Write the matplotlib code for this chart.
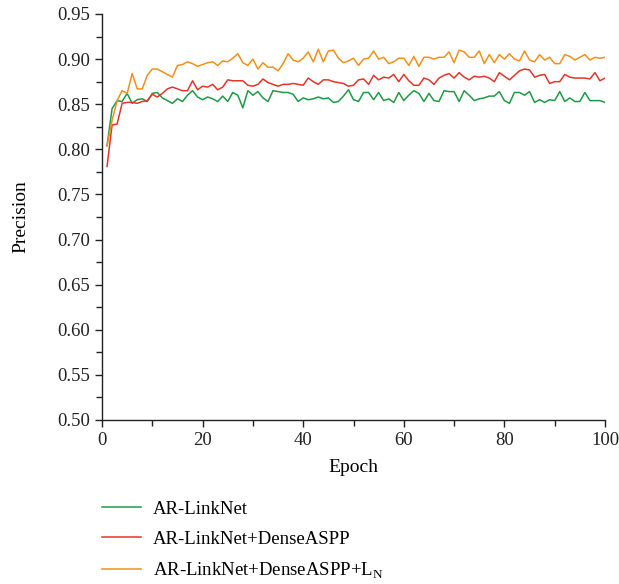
import matplotlib
matplotlib.use("Agg")
import matplotlib.pyplot as plt
from matplotlib.ticker import MultipleLocator
import numpy as np

epochs = list(range(1, 101))

ar_linknet = [
    0.804, 0.845, 0.854, 0.853, 0.862, 0.851, 0.855, 0.856, 0.853, 0.862,
    0.863, 0.857, 0.854, 0.851, 0.856, 0.853, 0.860, 0.865, 0.858, 0.855,
    0.858, 0.856, 0.853, 0.859, 0.853, 0.863, 0.860, 0.846, 0.865, 0.860,
    0.864, 0.857, 0.853, 0.865, 0.864, 0.863, 0.863, 0.861, 0.853, 0.857,
    0.855, 0.856, 0.858, 0.856, 0.857, 0.852, 0.853, 0.859, 0.866, 0.855,
    0.853, 0.863, 0.863, 0.855, 0.863, 0.854, 0.856, 0.852, 0.863, 0.854,
    0.860, 0.865, 0.862, 0.853, 0.862, 0.854, 0.853, 0.865, 0.864, 0.864,
    0.853, 0.865, 0.860, 0.854, 0.856, 0.857, 0.859, 0.859, 0.864, 0.854,
    0.851, 0.863, 0.863, 0.860, 0.864, 0.852, 0.855, 0.852, 0.855, 0.854,
    0.864, 0.853, 0.857, 0.853, 0.853, 0.863, 0.854, 0.854, 0.854, 0.852,
]

ar_dense = [
    0.781, 0.827, 0.828, 0.851, 0.852, 0.852, 0.851, 0.853, 0.854, 0.861,
    0.858, 0.862, 0.867, 0.869, 0.867, 0.865, 0.865, 0.876, 0.866, 0.870,
    0.869, 0.872, 0.866, 0.869, 0.877, 0.876, 0.876, 0.876, 0.871, 0.870,
    0.872, 0.878, 0.874, 0.872, 0.870, 0.872, 0.872, 0.873, 0.872, 0.871,
    0.879, 0.875, 0.872, 0.877, 0.877, 0.875, 0.874, 0.873, 0.870, 0.871,
    0.877, 0.878, 0.872, 0.882, 0.877, 0.880, 0.879, 0.883, 0.875, 0.883,
    0.876, 0.871, 0.871, 0.879, 0.877, 0.872, 0.879, 0.882, 0.884, 0.879,
    0.885, 0.880, 0.877, 0.881, 0.880, 0.881, 0.879, 0.875, 0.885, 0.881,
    0.877, 0.882, 0.887, 0.889, 0.888, 0.880, 0.882, 0.883, 0.873, 0.875,
    0.875, 0.883, 0.880, 0.879, 0.879, 0.879, 0.878, 0.885, 0.876, 0.879,
]

ar_dense_ln = [
    0.804, 0.832, 0.854, 0.865, 0.862, 0.884, 0.867, 0.867, 0.882, 0.889,
    0.889, 0.886, 0.883, 0.880, 0.893, 0.894, 0.897, 0.895, 0.892, 0.894,
    0.896, 0.897, 0.893, 0.898, 0.897, 0.901, 0.906, 0.896, 0.893, 0.900,
    0.889, 0.896, 0.891, 0.891, 0.887, 0.895, 0.906, 0.899, 0.897, 0.901,
    0.908, 0.897, 0.911, 0.897, 0.909, 0.910, 0.901, 0.896, 0.898, 0.901,
    0.893, 0.900, 0.901, 0.909, 0.900, 0.902, 0.895, 0.897, 0.901, 0.901,
    0.893, 0.903, 0.892, 0.902, 0.902, 0.900, 0.902, 0.902, 0.908, 0.896,
    0.910, 0.908, 0.902, 0.902, 0.909, 0.895, 0.905, 0.896, 0.905, 0.900,
    0.906, 0.900, 0.898, 0.909, 0.899, 0.897, 0.905, 0.899, 0.902, 0.895,
    0.895, 0.905, 0.903, 0.899, 0.902, 0.905, 0.899, 0.902, 0.901, 0.902,
]

labels = ["AR-LinkNet", "AR-LinkNet+DenseASPP",
          r"AR-LinkNet+DenseASPP+L$_\mathregular{N}$"]
colors = ["#1f9a46", "#e4352b", "#f39019"]

plt.rcParams["font.family"] = "Liberation Serif"
plt.rcParams["mathtext.fontset"] = "custom"
plt.rcParams["mathtext.rm"] = "Liberation Serif"

W, H = 619, 584
fig = plt.figure(figsize=(W / 100, H / 100), dpi=100)
left, right, top, bottom = 102, 605, 14, 420
ax = fig.add_axes([left / W, 1 - bottom / H, (right - left) / W, (bottom - top) / H])

for series, lab, col in zip([ar_linknet, ar_dense, ar_dense_ln], labels, colors):
    ax.plot(epochs, series, color=col, lw=1.1, label=lab)

ax.set_xlim(0, 100)
ax.set_ylim(0.50, 0.95)
ax.xaxis.set_major_locator(MultipleLocator(20))
ax.xaxis.set_minor_locator(MultipleLocator(10))
ax.yaxis.set_major_locator(MultipleLocator(0.05))
ax.yaxis.set_minor_locator(MultipleLocator(0.025))
ax.yaxis.set_major_formatter(matplotlib.ticker.FormatStrFormatter("%.2f"))
for s in ["top", "right"]:
    ax.spines[s].set_visible(False)
for s in ["left", "bottom"]:
    ax.spines[s].set_linewidth(1.0)
    ax.spines[s].set_color("#222222")
ax.tick_params(which="major", direction="out", length=5, width=1.0, labelsize=13.5,
               colors="#222222")
ax.tick_params(which="minor", direction="out", length=4, width=1.0, colors="#222222")
ax.set_xlabel("Epoch", fontsize=14, labelpad=7)
ax.set_ylabel("Precision", fontsize=14, labelpad=20)

fig.legend(loc="upper left", bbox_to_anchor=(94 / W, 1 - 493 / H), frameon=False,
           fontsize=13.5, handlelength=2.1, handletextpad=0.65, labelspacing=0.7,
           borderaxespad=0)

fig.savefig("out.png", dpi=100)
